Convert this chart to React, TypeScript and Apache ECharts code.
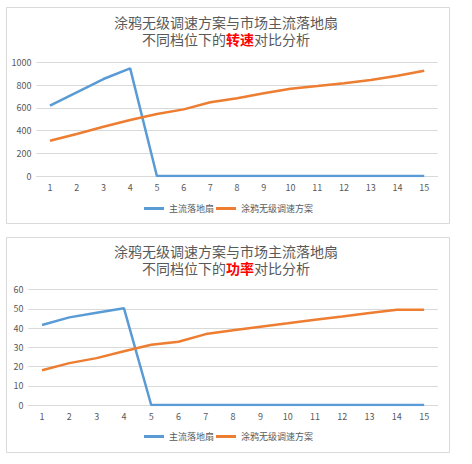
import React, { useEffect, useRef } from "react";
import * as echarts from "echarts";

const categories = ["1", "2", "3", "4", "5", "6", "7", "8", "9", "10", "11", "12", "13", "14", "15"];
const seriesNames = ["主流落地扇", "涂鸦无级调速方案"];
const speedMarket = [618, 736, 853, 947, 0, 0, 0, 0, 0, 0, 0, 0, 0, 0, 0];
const speedTuya = [310, 369, 433, 493, 546, 586, 648, 683, 727, 768, 791, 815, 844, 882, 926];
const powerMarket = [41.6, 45.6, 48, 50.4, 0, 0, 0, 0, 0, 0, 0, 0, 0, 0, 0];
const powerTuya = [18.1, 21.8, 24.4, 28, 31.4, 32.9, 36.9, 38.9, 40.7, 42.5, 44.4, 46.1, 47.9, 49.6, 49.6];
const titleLine1 = "涂鸦无级调速方案与市场主流落地扇";
const titleLine2Pre = "不同档位下的";
const titleLine2Post = "对比分析";
const highlight1 = "转速";
const highlight2 = "功率";

const BLUE = "#5B9BD5";
const ORANGE = "#ED7D31";
const GRAY = "#595959";
const GRID = "#D9D9D9";
const FONT = '"Noto Sans CJK SC", sans-serif';
const TITLE_FONT = '"Liberation Sans", "Noto Sans CJK SC", sans-serif';

export default function App() {
  const ref = useRef<HTMLDivElement>(null);
  useEffect(() => {
    document.body.style.margin = "0";
    if (!ref.current) return;
    const chart = echarts.init(ref.current, null, { renderer: "svg" });
    const baseText = {
      fontFamily: TITLE_FONT,
      fontSize: 14,
      fontWeight: "normal",
      color: GRAY,
      lineHeight: 16,
    };
    const mkTitle = (text: string, top: number) => ({
      left: 226,
      top,
      textAlign: "center",
      padding: 0,
      text,
      textStyle: {
        ...baseText,
        rich: {
          r: { ...baseText, fontWeight: "bold", color: "#FF0000" },
        },
      },
    });
    const mkX = (gi: number, margin: number) => ({
      type: "category",
      gridIndex: gi,
      data: categories,
      boundaryGap: true,
      axisLine: { show: true, lineStyle: { color: GRID, width: 1 } },
      axisTick: { show: false },
      axisLabel: { color: GRAY, fontSize: 9, fontFamily: FONT, margin, interval: 0 },
      splitLine: { show: false },
    });
    const mkY = (gi: number, max: number, interval: number) => ({
      type: "value",
      gridIndex: gi,
      min: 0,
      max,
      interval,
      axisLine: { show: false },
      axisTick: { show: false },
      axisLabel: {
        color: GRAY,
        fontSize: 9,
        fontFamily: FONT,
        margin: 5,
        formatter: (v: number) => String(v),
      },
      splitLine: { show: true, lineStyle: { color: GRID, width: 1 } },
    });
    const mkSeries = (name: string, data: number[], color: string, gi: number) => ({
      type: "line",
      name,
      data,
      xAxisIndex: gi,
      yAxisIndex: gi,
      showSymbol: false,
      symbol: "none",
      lineStyle: { color, width: 2.5 },
      itemStyle: { color },
      emphasis: { disabled: true },
    });
    const mkLegend = (top: number) => ({
      left: 144,
      top,
      padding: 0,
      itemGap: 2,
      itemWidth: 20,
      itemHeight: 3,
      icon: "rect",
      data: seriesNames,
      selectedMode: false,
      textStyle: { color: GRAY, fontSize: 9, fontFamily: FONT },
    });
    chart.setOption({
      animation: false,
      backgroundColor: "#ffffff",
      graphic: [
        { type: "rect", z: -10, shape: { x: 6.5, y: 7.5, width: 443, height: 216 }, style: { fill: "#fff", stroke: GRID, lineWidth: 1 } },
        { type: "rect", z: -10, shape: { x: 6.5, y: 237.5, width: 443, height: 215 }, style: { fill: "#fff", stroke: GRID, lineWidth: 1 } },
      ],
      title: [
        mkTitle(titleLine1, 14.5),
        mkTitle(`${titleLine2Pre}{r|${highlight1}}${titleLine2Post}`, 31.5),
        mkTitle(titleLine1, 243.5),
        mkTitle(`${titleLine2Pre}{r|${highlight2}}${titleLine2Post}`, 260.5),
      ],
      grid: [
        { left: 36.6, top: 62.3, width: 401, height: 113.7 },
        { left: 28.4, top: 289.7, width: 409.4, height: 115.3 },
      ],
      xAxis: [mkX(0, 7), mkX(1, 6.5)],
      yAxis: [mkY(0, 1000, 200), mkY(1, 60, 10)],
      legend: [mkLegend(204), mkLegend(432)],
      series: [
        mkSeries(seriesNames[0], speedMarket, BLUE, 0),
        mkSeries(seriesNames[1], speedTuya, ORANGE, 0),
        mkSeries(seriesNames[0], powerMarket, BLUE, 1),
        mkSeries(seriesNames[1], powerTuya, ORANGE, 1),
      ],
    });
    return () => chart.dispose();
  }, []);
  return <div ref={ref} style={{ width: 472, height: 464 }} />;
}
